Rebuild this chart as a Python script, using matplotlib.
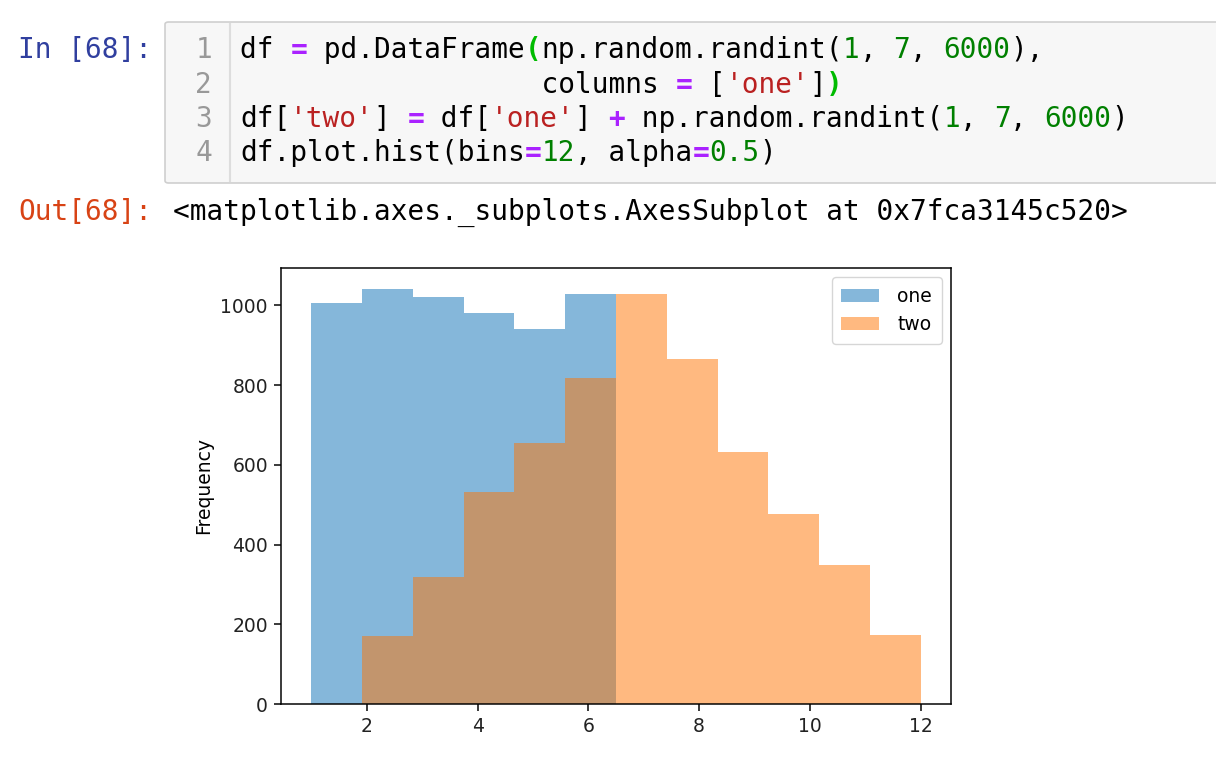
import numpy as np
import matplotlib.pyplot as plt
from matplotlib.patches import FancyBboxPatch
from matplotlib.lines import Line2D

# histogram counts
one_values = [1, 2, 3, 4, 5, 6]
one_counts = [1007, 1042, 1022, 982, 940, 1028]
two_values = [2, 3, 4, 5, 6, 7, 8, 9, 10, 11, 12]
two_counts = [170, 319, 531, 654, 818, 1028, 866, 633, 478, 348, 172]
n_bins = 12
series_labels = ['one', 'two']

W, H = 1216, 780
S = 1.35  # scale of the retina screenshot vs default sizes

plt.rcParams['font.size'] = 10 * S
plt.rcParams['axes.linewidth'] = 0.8 * S
for a in ('xtick', 'ytick'):
    plt.rcParams[a + '.major.size'] = 3.5 * S
    plt.rcParams[a + '.major.width'] = 0.8 * S
    plt.rcParams[a + '.major.pad'] = 3.5 * S
plt.rcParams['axes.labelpad'] = 4 * S

fig = plt.figure(figsize=(W / 100, H / 100), dpi=100)


def fx(x):
    return x / W


def fy(y):
    return 1 - y / H


# ---- notebook cell ----
mono = 'DejaVu Sans Mono'
fs = 20
cw = 16.75  # px per character

black = '#000000'
op = '#AA22FF'
num = '#008000'
st = '#BA2121'
br = '#00BB00'

code_lines = [
    [("df ", black), ("=", op), (" pd.DataFrame", black), ("(", br),
     ("np.random.randint(", black), ("1", num), (", ", black), ("7", num),
     (", ", black), ("6000", num), ("),", black)],
    [(" " * 18 + "columns ", black), ("=", op), (" [", black), ("'one'", st),
     ("]", black), (")", br)],
    [("df[", black), ("'two'", st), ("] ", black), ("=", op), (" df[", black),
     ("'one'", st), ("] ", black), ("+", op), (" np.random.randint(", black),
     ("1", num), (", ", black), ("7", num), (", ", black), ("6000", num),
     (")", black)],
    [("df.plot.hist(bins", black), ("=", op), ("12", num), (", alpha", black),
     ("=", op), ("0.5", num), (")", black)],
]
line_y = [50, 85, 119, 153]

box = FancyBboxPatch((fx(165), fy(183)), fx(1250) - fx(165), fy(22) - fy(183),
                     boxstyle='round,pad=0,rounding_size=0.003',
                     transform=fig.transFigure, facecolor='#f7f7f7',
                     edgecolor='#cfcfcf', linewidth=1.2)
fig.patches.append(box)
fig.lines.append(Line2D([fx(230), fx(230)], [fy(24), fy(181)],
                        transform=fig.transFigure, color='#dddddd', lw=1.5))

fig.text(fx(18), fy(50), 'In [68]:', family=mono, fontsize=fs,
         color='#303F9F', va='center', ha='left')
for i, (tokens, y) in enumerate(zip(code_lines, line_y)):
    fig.text(fx(212), fy(y), str(i + 1), family=mono, fontsize=fs,
             color='#999999', va='center', ha='right')
    col = 0
    for txt, c in tokens:
        bold = c in (op, br)
        fig.text(fx(240 + col * cw), fy(y), txt, family=mono, fontsize=fs,
                 color=c, va='center', ha='left',
                 fontweight='bold' if bold else 'normal')
        col += len(txt)

fig.text(fx(18), fy(212), 'Out[68]:', family=mono, fontsize=fs,
         color='#D84315', va='center', ha='left')
fig.text(fx(173), fy(212),
         '<matplotlib.axes._subplots.AxesSubplot at 0x7fca3145c520>',
         family=mono, fontsize=fs, color=black, va='center', ha='left')

# ---- the histogram ----
ax = fig.add_axes([fx(281), fy(704), fx(951) - fx(281), fy(268) - fy(704)])
lo = min(one_values + two_values)
hi = max(one_values + two_values)
edges = np.linspace(lo, hi, n_bins + 1)
ax.hist(one_values, bins=edges, weights=one_counts, alpha=0.5,
        color='#0c70b6', label=series_labels[0])
ax.hist(two_values, bins=edges, weights=two_counts, alpha=0.5,
        color='#ff7502', label=series_labels[1])
ax.set_ylabel('Frequency')
ax.tick_params(labelcolor='#222222')
ax.legend(loc='upper right', borderpad=0.5, handletextpad=1.0)

fig.savefig('out.png', dpi=100)
